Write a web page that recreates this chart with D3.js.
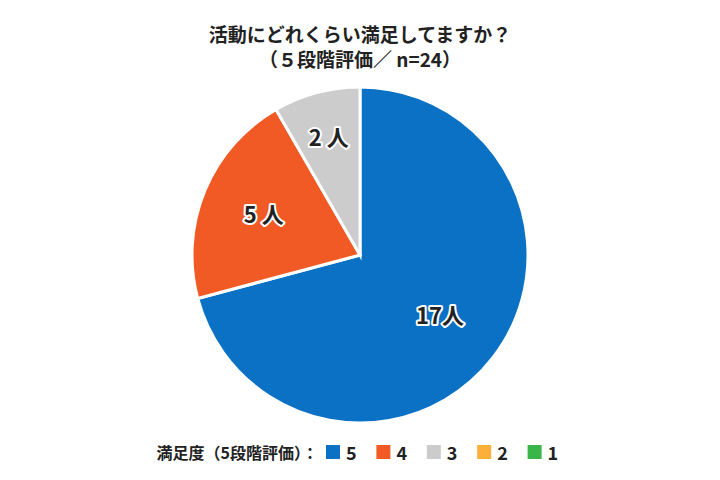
<!DOCTYPE html><html><head><meta charset="utf-8">
<script src="https://cdn.jsdelivr.net/npm/d3@7"></script>
<style>body{margin:0;background:#fff}text{font-family:"Noto Sans CJK JP","Noto Sans",sans-serif;font-weight:bold}</style></head><body>
<svg id="c" width="720" height="480"></svg>
<script>
const categories=["5","4","3","2","1"];
const values=[17,5,2,0,0];
const colors=["#0a71c4","#f15a24","#cccccc","#fbb03b","#39b54a"];
const title1="活動にどれくらい満足してますか？";
const title2="（５段階評価／ n=24）";
const svg=d3.select("#c");
svg.append("text").attr("x",360).attr("y",42).attr("text-anchor","middle").attr("font-size",19).attr("fill","#222").text(title1);
svg.append("text").attr("x",360).attr("y",67).attr("text-anchor","middle").attr("font-size",19).attr("fill","#222").text(title2);
const data=categories.map((c,i)=>({c,v:values[i],col:colors[i]}));
const pie=d3.pie().sort(null).value(d=>d.v);
const r=168;
const arc=d3.arc().innerRadius(0).outerRadius(r);
const g=svg.append("g").attr("transform","translate(360,255)");
const arcs=pie(data).filter(a=>a.data.v>0);
g.selectAll("path").data(arcs).join("path").attr("d",arc).attr("fill",d=>d.data.col).attr("stroke","#fff").attr("stroke-width",3);
const lr=[0.6,0.62,0.72];
arcs.forEach((a,i)=>{
  const la=d3.arc().innerRadius(r*lr[i]).outerRadius(r*lr[i]);
  const [x,y]=la.centroid(a);
  g.append("text").attr("x",x).attr("y",y).attr("dy","0.35em").attr("text-anchor","middle").attr("font-size",22)
   .attr("fill","#222").attr("stroke","#fff").attr("stroke-width",4).attr("paint-order","stroke").attr("stroke-linejoin","round")
   .text(a.data.v+(a.data.v>=10?"":" ")+"人");
});
const lg=svg.append("g");
lg.append("text").attr("x",318).attr("y",459).attr("text-anchor","end").attr("font-size",16).attr("fill","#222").text("満足度（5段階評価）：");
const lx=d3.scaleBand().domain(categories).range([326,578]);
categories.forEach(c=>{
  lg.append("rect").attr("x",lx(c)).attr("y",445).attr("width",14).attr("height",14).attr("fill",colors[categories.indexOf(c)]);
  lg.append("text").attr("x",lx(c)+20).attr("y",460).attr("font-size",18).attr("fill","#222").text(c);
});
</script></body></html>
